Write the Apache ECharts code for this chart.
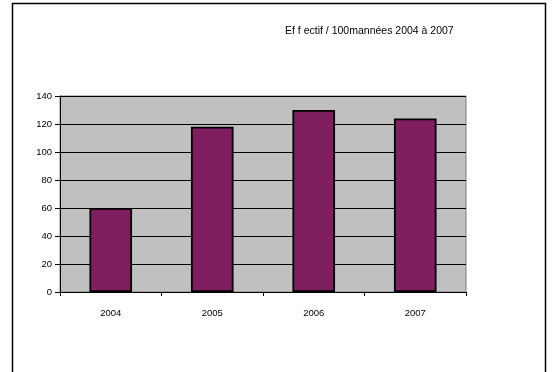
<!DOCTYPE html>
<html><head><meta charset="utf-8">
<script src="https://cdn.jsdelivr.net/npm/echarts@6/dist/echarts.min.js"></script>
<style>html,body{margin:0;padding:0;background:#fff}#c{width:558px;height:372px}</style>
</head><body><div id="c"></div>
<script>
const titleText = "Ef f ectif / 100mannées 2004 à 2007";
const categories = ["2004", "2005", "2006", "2007"];
const values = [60, 118, 130, 124];
const yMin = 0, yMax = 140, yStep = 20;

const chart = echarts.init(document.getElementById('c'), null, {renderer: 'canvas'});
chart.setOption({
  animation: false,
  backgroundColor: '#ffffff',
  graphic: [{
    type: 'rect', shape: {x: 12.5, y: 3.5, width: 533, height: 400},
    style: {fill: 'none', stroke: '#000', lineWidth: 1.5}, silent: true
  }],
  title: {
    text: titleText, left: 280, top: 21,
    textStyle: {fontFamily: 'Liberation Sans, Arial', fontSize: 10.5, fontWeight: 'normal', color: '#000'}
  },
  grid: {
    left: 60, right: 92, top: 96, bottom: 80, show: true,
    backgroundColor: '#C0C0C0', borderColor: '#808080', borderWidth: 1
  },
  xAxis: {
    type: 'category', data: categories,
    axisLine: {lineStyle: {color: '#000', width: 1}},
    axisTick: {show: true, length: 4, lineStyle: {color: '#000'}},
    axisLabel: {fontFamily: 'Liberation Sans, Arial', fontSize: 9.5, color: '#000', margin: 16}
  },
  yAxis: {
    type: 'value', min: yMin, max: yMax, interval: yStep,
    axisLine: {show: true, lineStyle: {color: '#000', width: 1}},
    axisTick: {show: true, length: 5, lineStyle: {color: '#000'}},
    axisLabel: {fontFamily: 'Liberation Sans, Arial', fontSize: 9.5, color: '#000', margin: 8},
    splitLine: {show: true, lineStyle: {color: '#000', width: 1}}
  },
  series: [{
    type: 'bar', data: values, barCategoryGap: '58%',
    itemStyle: {color: '#7F1F5F', borderColor: '#000', borderWidth: 1.8}
  }]
});
</script></body></html>
